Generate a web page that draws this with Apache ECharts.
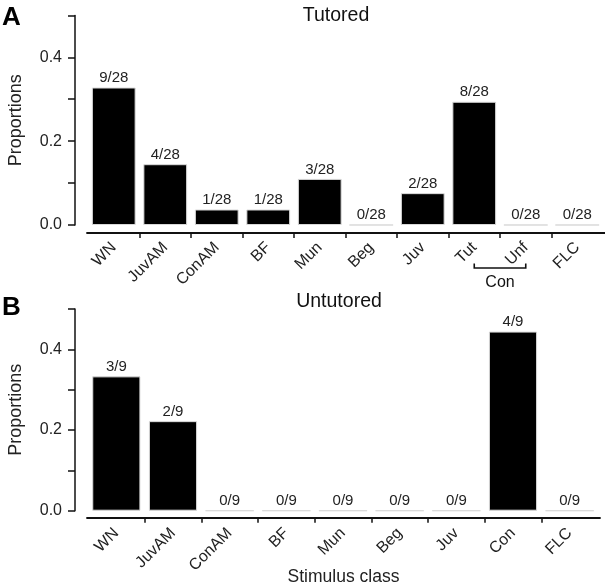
<!DOCTYPE html>
<html><head><meta charset="utf-8">
<script src="https://cdn.jsdelivr.net/npm/echarts@6/dist/echarts.min.js"></script>
<style>html,body{margin:0;padding:0;background:#fff}#c{width:605px;height:585px}</style>
</head><body><div id="c"></div>
<script>
// ---- data ----
const catsA = ['WN','JuvAM','ConAM','BF','Mun','Beg','Juv','Tut','Unf','FLC'];
const valsA = [0.328, 0.145, 0.037, 0.037, 0.110, 0, 0.076, 0.294, 0, 0];
const labelsA = ['9/28','4/28','1/28','1/28','3/28','0/28','2/28','8/28','0/28','0/28'];

const catsB = ['WN','JuvAM','ConAM','BF','Mun','Beg','Juv','Con','FLC'];
const valsB = [0.333, 0.222, 0, 0, 0, 0, 0, 0.444, 0];
const labelsB = ['3/9','2/9','0/9','0/9','0/9','0/9','0/9','4/9','0/9'];

const yTickLabels = ['0.0','','0.2','','0.4',''];
const bracketCats = ['Tut','Unf'];
const bracketLabel = 'Con';

// ---- chart ----
const FONT = '"Liberation Sans", Helvetica, Arial, sans-serif';
const INK = '#111';
const chart = echarts.init(document.getElementById('c'), null, {renderer:'canvas'});

const base = {outerBoundsMode:'none', containLabel:false};
// plot grids (bars + y axis)
const gridA = Object.assign({left:88, right:2, top:15.4, height:209.6}, base);
const gridB = Object.assign({left:88, right:7, top:309, height:201.7}, base);
// overlapping grids whose bottom edge carries the detached x-axis line
const lineA = Object.assign({left:87, right:0, top:15.4, height:217.6}, base);
const lineB = Object.assign({left:87, right:5, top:309, height:208.7}, base);

function yAxis(gi){
  return {
    type:'value', gridIndex:gi, min:0, max:0.5, interval:0.1, offset:13,
    name:'Proportions', nameLocation:'middle', nameGap:50, nameMoveOverlap:false,
    nameTextStyle:{fontSize:18, color:'#222', fontFamily:FONT},
    axisLine:{show:true, lineStyle:{color:INK, width:1.5}},
    axisTick:{show:true, length:7, lineStyle:{color:INK, width:1.5}},
    axisLabel:{margin:13, fontSize:16, color:'#222', fontFamily:FONT,
      formatter:(v)=>yTickLabels[Math.round(v/0.1)] || ''},
    splitLine:{show:false}
  };
}
function hiddenY(gi){ return {type:'value', gridIndex:gi, min:0, max:1, show:false}; }
function catAxis(gi, cats){
  return {
    type:'category', gridIndex:gi, data:cats, boundaryGap:true, position:'bottom',
    axisLine:{show:false}, axisTick:{show:false},
    axisLabel:{rotate:45, margin:20, fontSize:16, color:'#222', fontFamily:FONT, interval:0},
    splitLine:{show:false}
  };
}
// axis line with ticks only between categories (not at the two ends)
function lineAxis(gi, cats, plotGrid, lineGrid, extra){
  const n = cats.length;
  const bounds = cats.slice(1).map((c,i)=>i+1);
  const plotW = 605 - plotGrid.left - plotGrid.right;
  const band = plotW / n;
  const lo = -(plotGrid.left - lineGrid.left) / band;
  const hi = n + ((plotGrid.right - lineGrid.right) / band);
  return Object.assign({
    type:'value', gridIndex:gi, min:lo, max:hi, position:'bottom',
    axisLine:{show:true, lineStyle:{color:INK, width:1.8}},
    axisLabel:{show:false}, splitLine:{show:false},
    axisTick:{show:true, length:5, customValues:bounds, lineStyle:{color:INK, width:1.5}}
  }, extra||{});
}
function bars(gi, vals, labels){
  return {
    type:'bar', xAxisIndex:gi, yAxisIndex:gi, data:vals, barWidth:'85%',
    itemStyle:{color:'#000', borderColor:'#d9d9d9', borderWidth:1},
    label:{show:true, position:'top', distance:2, fontSize:15, color:'#222', fontFamily:FONT,
      formatter:(p)=>labels[p.dataIndex]},
    animation:false
  };
}

const option = {
  animation:false,
  backgroundColor:'#fff',
  grid:[gridA, gridB, lineA, lineB],
  xAxis:[
    catAxis(0, catsA),
    catAxis(1, catsB),
    lineAxis(2, catsA, gridA, lineA),
    lineAxis(3, catsB, gridB, lineB, {name:'Stimulus class', nameLocation:'middle', nameGap:50,
      nameMoveOverlap:false, nameTextStyle:{fontSize:17.5, color:'#222', fontFamily:FONT}})
  ],
  yAxis:[yAxis(0), yAxis(1), hiddenY(2), hiddenY(3)],
  series:[bars(0, valsA, labelsA), bars(1, valsB, labelsB)],
  graphic:[
    {type:'text', x:2, y:17.5, style:{text:'A', font:'bold 26px '+FONT, fill:'#000', textAlign:'left', textVerticalAlign:'middle'}},
    {type:'text', x:2, y:308, style:{text:'B', font:'bold 26px '+FONT, fill:'#000', textAlign:'left', textVerticalAlign:'middle'}},
    {type:'text', x:336, y:16, style:{text:'Tutored', font:'19.5px '+FONT, fill:'#111', textAlign:'center', textVerticalAlign:'middle'}},
    {type:'text', x:339, y:302, style:{text:'Untutored', font:'19.5px '+FONT, fill:'#111', textAlign:'center', textVerticalAlign:'middle'}}
  ]
};
chart.setOption(option);

// bracket under the two "Con" sub-categories, positioned through the axis scale
const x1 = chart.convertToPixel({xAxisIndex:0}, bracketCats[0]);
const x2 = chart.convertToPixel({xAxisIndex:0}, bracketCats[1]);
const yBase = chart.convertToPixel({yAxisIndex:0}, 0);
const by = yBase + 43;
chart.setOption({graphic:option.graphic.concat([
  {type:'polyline', shape:{points:[[x1,by-4.5],[x1,by],[x2,by],[x2,by-4.5]]}, style:{stroke:INK, lineWidth:1.6, fill:null}},
  {type:'text', x:(x1+x2)/2, y:by+15, style:{text:bracketLabel, font:'16px '+FONT, fill:'#111', textAlign:'center', textVerticalAlign:'middle'}}
])});
</script>
</body></html>
